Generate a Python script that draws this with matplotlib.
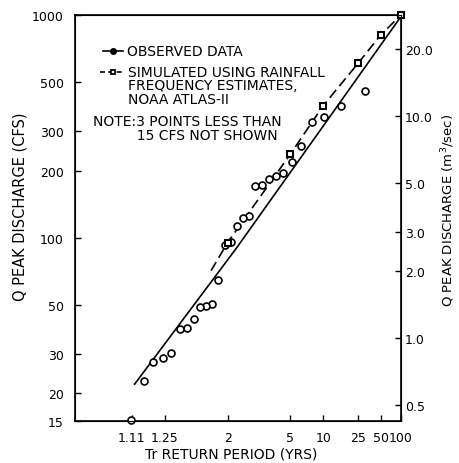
import math

import numpy as np
import matplotlib
matplotlib.use("Agg")
import matplotlib.pyplot as plt  # noqa: E402
from matplotlib.ticker import FixedLocator, FixedFormatter, NullLocator  # noqa: E402

CFS_TO_CMS = 0.0283168

# observed annual peaks: plotting-position return period (yrs), discharge (cfs)
OBS_T = [31.0, 15.5, 10.3, 7.75, 6.2, 5.2, 4.4, 3.9, 3.45, 3.1, 2.82, 2.58, 2.39, 2.21,
         2.07, 1.94, 1.82, 1.72, 1.63, 1.55, 1.48, 1.41, 1.35, 1.29, 1.24, 1.19, 1.15, 1.107]
OBS_Q = [455, 391, 347, 330, 259, 218, 196, 189, 183, 172, 170, 125, 122, 113,
         96, 93, 64.7, 50.2, 49.4, 48.9, 43.1, 39.1, 38.8, 30.3, 28.7, 27.5, 22.8, 15.2]

# solid curve fitted to the observed data
FIT_T = [1.117, 2.21, 6.37, 100]
FIT_Q = [21.8, 89.8, 235, 985]

# simulated from rainfall frequency estimates (NOAA Atlas 2)
SIM_T = [2, 5, 10, 25, 50, 100]
SIM_Q = [95, 237, 391, 607, 813, 1000]
SIM_LINE_T = [1.70, 2, 5, 10, 25, 50, 100]
SIM_LINE_Q = [71, 95, 237, 391, 607, 813, 1000]

X_TICKS = [1.11, 1.25, 2, 5, 10, 25, 50, 100]
X_LABELS = ["1.11", "1.25", "2", "5", "10", "25", "50", "100"]
Y_TICKS = [15, 20, 30, 50, 100, 200, 300, 500, 1000]
Y2_TICKS = [0.5, 1.0, 2.0, 3.0, 5.0, 10.0, 20.0]

_erf = np.vectorize(math.erf, otypes=[float])


def norm_cdf(z):
    return 0.5 * (1.0 + _erf(np.asarray(z, dtype=float) / math.sqrt(2.0)))


def norm_ppf(p):
    p = np.clip(np.asarray(p, dtype=float), 1e-12, 1 - 1e-12)
    lo = np.full(p.shape, -9.0)
    hi = np.full(p.shape, 9.0)
    for _ in range(60):
        mid = 0.5 * (lo + hi)
        below = norm_cdf(mid) < p
        lo = np.where(below, mid, lo)
        hi = np.where(below, hi, mid)
    return 0.5 * (lo + hi)


def t_to_z(t):
    t = np.clip(np.asarray(t, dtype=float), 1.000001, None)
    return norm_ppf(1.0 - 1.0 / t)


def z_to_t(z):
    q = np.clip(1.0 - norm_cdf(z), 1e-12, None)
    return 1.0 / q


def main():
    fig = plt.figure(figsize=(4.59, 4.64), dpi=100)
    ax = fig.add_axes([75 / 459, 1 - 422 / 464, 326 / 459, 406 / 464])
    ax.set_xscale("function", functions=(t_to_z, z_to_t))
    ax.set_yscale("log")
    ax.set_xlim(1.0207, 100)
    ax.set_ylim(15, 1000)

    ax.plot(FIT_T, FIT_Q, color="black", lw=1.2, solid_capstyle="butt")
    ax.plot(SIM_LINE_T, SIM_LINE_Q, color="black", lw=1.2, dashes=(6, 3))
    ax.plot(OBS_T, OBS_Q, ls="none", marker="o", ms=5, mfc="white", mec="black",
            mew=1.2, clip_on=False, zorder=3)
    ax.plot(SIM_T, SIM_Q, ls="none", marker="s", ms=4.5, mfc="white", mec="black",
            mew=1.5, clip_on=False, zorder=4)

    ax.xaxis.set_major_locator(FixedLocator(X_TICKS))
    ax.xaxis.set_major_formatter(FixedFormatter(X_LABELS))
    ax.xaxis.set_minor_locator(NullLocator())
    ax.yaxis.set_major_locator(FixedLocator(Y_TICKS))
    ax.yaxis.set_major_formatter(FixedFormatter([str(v) for v in Y_TICKS]))
    ax.yaxis.set_minor_locator(NullLocator())
    ax.tick_params(axis="x", direction="in", length=4, width=1, pad=7, labelsize=9)
    ax.tick_params(axis="y", direction="in", length=4, width=1, pad=8, labelsize=9)
    for s in ax.spines.values():
        s.set_linewidth(1.2)

    ax2 = ax.twinx()
    ax2.set_yscale("log")
    ax2.set_ylim(15 * CFS_TO_CMS, 1000 * CFS_TO_CMS)
    ax2.yaxis.set_major_locator(FixedLocator(Y2_TICKS))
    ax2.yaxis.set_major_formatter(FixedFormatter([f"{v:.1f}" for v in Y2_TICKS]))
    ax2.yaxis.set_minor_locator(NullLocator())
    ax2.tick_params(axis="y", direction="in", length=4, width=1, pad=3, labelsize=9)

    ax.set_xlabel("Tr RETURN PERIOD (YRS)", fontsize=10)
    ax.xaxis.set_label_coords(0.48, -0.062)
    ax.set_ylabel("Q PEAK DISCHARGE (CFS)", fontsize=10.5)
    ax.yaxis.set_label_coords(-0.147, 0.53)
    ax2.set_ylabel("Q PEAK DISCHARGE (m$^3$/sec)", fontsize=9.5)
    ax2.yaxis.set_label_coords(1.118, 0.52)

    # legend keys and notes
    tr = ax.transAxes
    ax.plot([0.086, 0.147], [0.911, 0.911], color="black", lw=1.2, transform=tr)
    ax.plot([0.117], [0.911], marker="o", ms=4, color="black", transform=tr)
    ax.text(0.160, 0.911, "OBSERVED DATA", transform=tr, fontsize=10, va="center")
    ax.plot([0.077, 0.150], [0.860, 0.860], color="black", lw=1.2, dashes=(3, 2),
            transform=tr)
    ax.plot([0.117], [0.860], marker="s", ms=3.5, mfc="white", mec="black", mew=1.3,
            transform=tr)
    ax.text(0.163, 0.877, "SIMULATED USING RAINFALL\nFREQUENCY ESTIMATES,\nNOAA ATLAS-II",
            transform=tr, fontsize=10, va="top", linespacing=0.95)
    ax.text(0.055, 0.755, "NOTE:3 POINTS LESS THAN\n          15 CFS NOT SHOWN",
            transform=tr, fontsize=10, va="top", linespacing=0.95)

    fig.savefig("out.png", dpi=100)
    plt.close(fig)


if __name__ == "__main__":
    main()
